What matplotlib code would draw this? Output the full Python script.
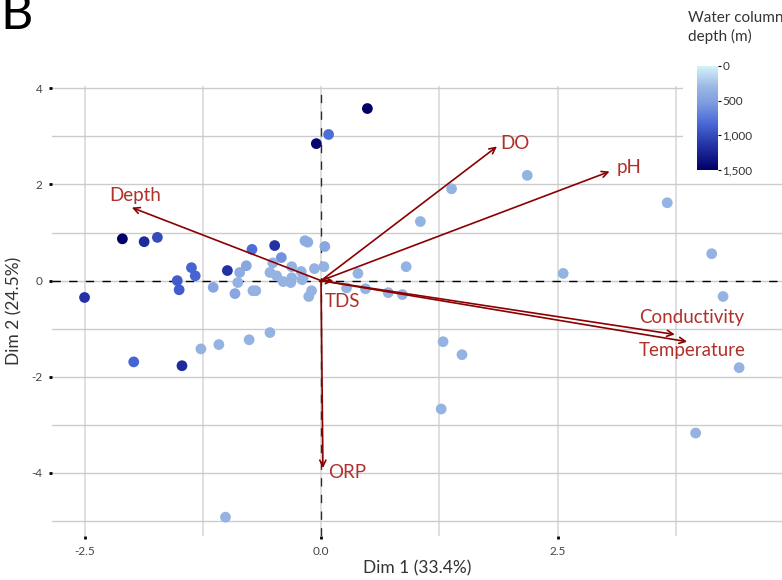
import matplotlib
matplotlib.use('Agg')
import matplotlib.pyplot as plt
from matplotlib.colors import LinearSegmentedColormap, Normalize
from matplotlib.ticker import MultipleLocator
import numpy as np

plt.rcParams['font.family'] = ['Lato', 'DejaVu Sans']

# individuals (PCA scores) and their water column depth (m)
dim1 = [-2.10, -1.87, -1.73, -2.50, -1.52, -1.50, -1.37, -1.33, -1.98, -1.47,
        -1.14, -0.99, -0.91, -0.88, -0.86, -0.79, -0.73, -0.72, -0.69, -0.49,
        -0.42, -0.51, -0.54, -0.47, -0.40, -0.31, -0.32, -0.31, -0.21, -0.19,
        -0.17, -0.14, -0.07, -0.10, -0.13, 0.04, 0.03, -0.20, 0.27, 0.39,
        0.47, 0.71, 0.86, 0.90, 1.05, -1.27, -1.08, -0.76, -0.54, 0.49,
        -0.05, 0.08, 1.38, 2.18, 3.66, 4.13, 4.25, 2.56, 1.29, 1.49,
        1.27, 3.96, 4.42, -1.01]
dim2 = [0.87, 0.81, 0.90, -0.35, 0.00, -0.19, 0.27, 0.10, -1.69, -1.77,
        -0.14, 0.21, -0.27, -0.04, 0.17, 0.31, 0.65, -0.21, -0.21, 0.73,
        0.48, 0.37, 0.17, 0.10, -0.02, 0.29, -0.04, 0.06, 0.19, 0.06,
        0.83, 0.80, 0.25, -0.21, -0.33, 0.71, 0.29, 0.02, -0.15, 0.15,
        -0.17, -0.25, -0.29, 0.29, 1.23, -1.42, -1.33, -1.23, -1.08, 3.58,
        2.85, 3.04, 1.91, 2.19, 1.62, 0.56, -0.33, 0.15, -1.27, -1.54,
        -2.67, -3.17, -1.81, -4.92]
depth = [1500, 1200, 1000, 1150, 900, 900, 850, 850, 850, 1200,
         450, 1150, 450, 350, 400, 450, 800, 350, 350, 1150,
         600, 350, 350, 350, 350, 350, 350, 350, 350, 350,
         400, 400, 350, 350, 350, 450, 350, 350, 350, 350,
         350, 350, 350, 350, 350, 350, 350, 350, 350, 1500,
         1450, 800, 350, 350, 350, 350, 350, 350, 350, 350,
         350, 350, 350, 350]

# variable loadings (arrow tips)
var_names = ['Depth', 'DO', 'pH', 'Conductivity', 'Temperature', 'TDS', 'ORP']
var_x = [-2.00, 1.86, 3.05, 3.74, 3.87, 0.13, 0.02]
var_y = [1.52, 2.79, 2.27, -1.12, -1.27, 0.00, -3.90]
label_x = [-1.96, 1.89, 3.12, 3.92, 3.92, 0.04, 0.07]
label_y = [1.77, 2.85, 2.35, -0.77, -1.46, -0.44, -4.00]
label_ha = ['center', 'left', 'left', 'center', 'center', 'left', 'left']

cmap = LinearSegmentedColormap.from_list(
    'depth', [(0.0, '#d6f2fb'), (0.2, '#9ab8e4'), (0.35, '#7f9ee0'),
              (0.55, '#4a6ad6'), (0.75, '#2636a8'), (1.0, '#000066')])
norm = Normalize(0, 1500)

fig = plt.figure(figsize=(7.82, 5.8), dpi=100)
ax = fig.add_axes([0.0665, 0.076, 0.9335, 0.775])

ax.set_xlim(-2.844, 4.873)
ax.set_ylim(-5.31, 4.04)
for s in ax.spines.values():
    s.set_visible(False)

ax.xaxis.set_major_locator(MultipleLocator(2.5))
ax.xaxis.set_minor_locator(MultipleLocator(1.25))
ax.yaxis.set_major_locator(MultipleLocator(2))
ax.yaxis.set_minor_locator(MultipleLocator(1))
ax.grid(which='both', axis='x', color='#dcdcdc', lw=1.3)
ax.grid(which='both', axis='y', color='#cccccc', lw=1.0)
ax.set_axisbelow(True)
ax.tick_params(which='major', length=2, width=2, color='black',
               labelsize=8.5, labelcolor='#444444', pad=5)
ax.tick_params(which='minor', length=0)
ax.xaxis.set_major_formatter(plt.FuncFormatter(lambda v, p: f'{v:.1f}'))
ax.yaxis.set_major_formatter(plt.FuncFormatter(lambda v, p: f'{v:.0f}'))

ax.axhline(0, color='black', lw=1, ls=(0, (6, 6)), zorder=1)
ax.axvline(0, color='black', lw=1, ls=(0, (6, 6)), zorder=1, alpha=0.8)

ax.scatter(dim1, dim2, c=depth, cmap=cmap, norm=norm, s=60,
           edgecolors='none', zorder=3)

for name, vx, vy, lx, ly, ha in zip(var_names, var_x, var_y, label_x, label_y, label_ha):
    ax.annotate('', xy=(vx, vy), xytext=(0, 0),
                arrowprops=dict(arrowstyle='->', color='#8b0000', lw=1.2,
                                mutation_scale=11, shrinkA=0, shrinkB=0),
                zorder=4)
    ax.text(lx, ly, name, color='#b0302a', fontsize=13.5, ha=ha, va='center', zorder=5)

ax.set_xlabel('Dim 1 (33.4%)', fontsize=12.5, color='#333333', labelpad=3)
ax.set_ylabel('Dim 2 (24.5%)', fontsize=12.5, color='#333333', labelpad=6)

# legend area with white background
bg = fig.add_axes([683 / 782, 1 - 175 / 580, 99 / 782, 175 / 580])
bg.set_facecolor('white')
bg.set_xticks([])
bg.set_yticks([])
for s in bg.spines.values():
    s.set_visible(False)

cax = fig.add_axes([697 / 782, 1 - 170 / 580, 21 / 782, 104 / 580])
grad = np.linspace(0, 1500, 256).reshape(-1, 1)
cax.imshow(grad, aspect='auto', cmap=cmap, norm=norm, extent=[0, 1, 1500, 0])
cax.set_xticks([])
cax.yaxis.tick_right()
cax.set_yticks([0, 500, 1000, 1500])
cax.set_yticklabels(['0', '500', '1,000', '1,500'])
cax.tick_params(axis='y', length=2, width=0.8, labelsize=8.5, labelcolor='#333333', pad=1)
for s in cax.spines.values():
    s.set_visible(False)

fig.text(688 / 782, 1 - 11 / 580, 'Water column\ndepth (m)', fontsize=11,
         color='#333333', ha='left', va='top', linespacing=1.35)

fig.text(0.0, 1 - 29 / 580, 'B', fontsize=36, ha='left', va='baseline', color='black')

fig.savefig('out.png', dpi=100)
